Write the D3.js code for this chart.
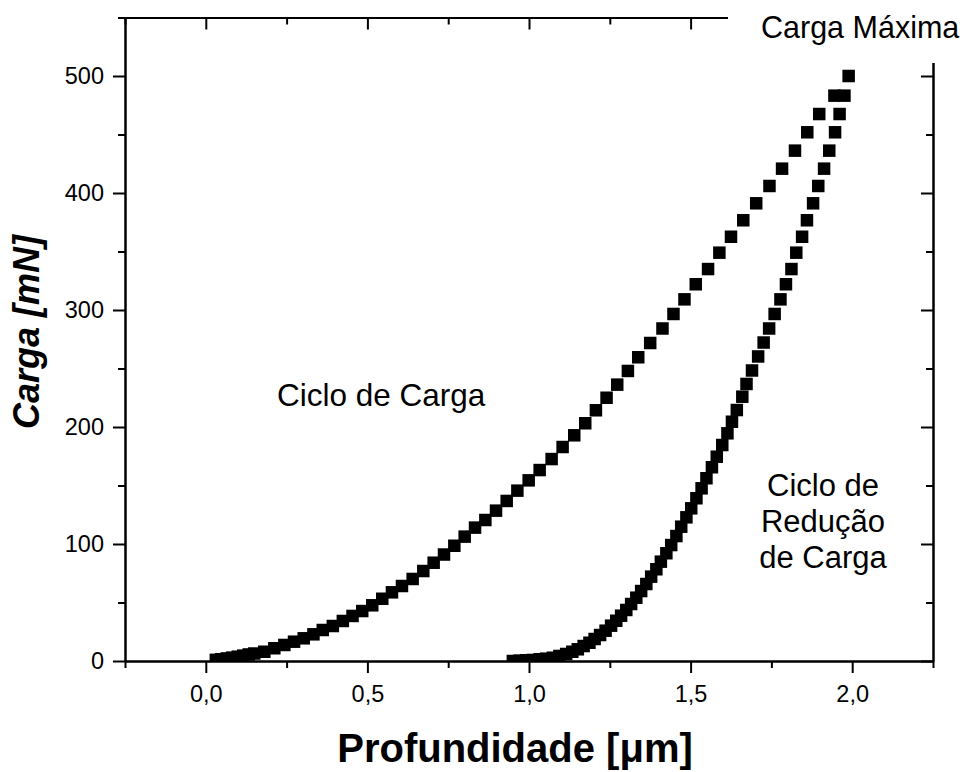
<!DOCTYPE html>
<html>
<head>
<meta charset="utf-8">
<script src="https://cdn.jsdelivr.net/npm/d3@7"></script>
<style>
	body { margin: 0; background: #fff; }
	svg { display: block; font-family: "Liberation Sans", Arial, sans-serif; }
	.axis path, .axis line { stroke: #000; stroke-width: 2; }
	.axis text { font-size: 23.5px; fill: #000; font-family: "Liberation Sans", Arial, sans-serif; }
</style>
</head>
<body>
<div id="chart"></div>
<script>
/**
 * Load / unload curve.
 */
var loadDepth = [0.031, 0.048, 0.065, 0.082, 0.099, 0.116, 0.133, 0.150, 0.181, 0.212,
	0.243, 0.273, 0.303, 0.333, 0.362, 0.393, 0.424, 0.454, 0.484, 0.515,
	0.546, 0.576, 0.607, 0.640, 0.673, 0.705, 0.737, 0.769, 0.801, 0.833,
	0.865, 0.898, 0.931, 0.964, 0.999, 1.033, 1.070, 1.104, 1.140, 1.174,
	1.207, 1.240, 1.273, 1.306, 1.338, 1.375, 1.413, 1.447, 1.481, 1.516,
	1.554, 1.589, 1.625, 1.663, 1.703, 1.744, 1.783, 1.823, 1.861, 1.898,
	1.945, 1.989];
var loadForce = [1.0, 1.5, 2.2, 2.9, 3.7, 4.6, 5.6, 6.4, 7.9, 10.9,
	13.7, 16.5, 19.4, 22.8, 26.5, 29.9, 34.2, 38.5, 42.7, 47.6,
	53.2, 58.7, 64.1, 70.1, 76.9, 84.0, 91.0, 98.5, 106.3, 114.0,
	120.5, 128.5, 136.8, 145.6, 154.4, 163.2, 172.6, 182.9, 192.9, 203.2,
	214.3, 225.0, 236.2, 247.9, 259.6, 271.8, 284.2, 296.6, 309.1, 322.0,
	335.0, 349.0, 362.6, 376.7, 391.2, 406.0, 420.8, 436.2, 451.9, 467.5,
	483.2, 500.0];

var unloadDepth = [1.976, 1.961, 1.947, 1.929, 1.913, 1.895, 1.879, 1.860, 1.845, 1.827,
	1.812, 1.795, 1.778, 1.760, 1.743, 1.726, 1.709, 1.690, 1.673, 1.660,
	1.643, 1.628, 1.614, 1.598, 1.581, 1.566, 1.549, 1.534, 1.518, 1.502,
	1.487, 1.471, 1.456, 1.440, 1.425, 1.408, 1.394, 1.378, 1.363, 1.347,
	1.332, 1.316, 1.301, 1.285, 1.270, 1.254, 1.237, 1.220, 1.203, 1.187,
	1.169, 1.151, 1.134, 1.115, 1.094, 1.074, 1.053, 1.033, 1.012, 0.991,
	0.971, 0.950];
var unloadForce = [483.2, 467.5, 451.9, 436.2, 420.8, 406.0, 391.2, 376.7, 362.6, 349.0,
	335.0, 322.0, 309.1, 296.6, 284.2, 272.2, 260.3, 248.3, 236.8, 225.9,
	214.5, 204.5, 194.6, 184.6, 174.6, 165.6, 156.2, 147.6, 139.1, 130.5,
	122.8, 114.8, 106.8, 99.1, 92.1, 84.9, 78.4, 72.1, 65.8, 59.8,
	54.1, 48.7, 43.6, 38.7, 34.4, 30.2, 25.9, 22.2, 18.8, 15.6,
	12.8, 10.0, 7.9, 6.0, 4.3, 2.8, 2.0, 1.5, 0.9, 0.6,
	0.3, 0.0];

var xMajor = [0, 0.5, 1, 1.5, 2];
var xMinor = [-0.25, 0.25, 0.75, 1.25, 1.75, 2.25];
var yMajor = [0, 100, 200, 300, 400, 500];
var yMinor = [50, 150, 250, 350, 450, 550];

var xDomain = [-0.25, 2.25];
var yDomain = [0, 550];

var reductionLines = ['Ciclo de', 'Redução', 'de Carga'];

/**
 * Build the chart
 */
function init() {
	var width = 970, height = 772,
		margin = {top: 17.5, right: 37, bottom: 111, left: 125},
		innerW = width - margin.left - margin.right,
		innerH = height - margin.top - margin.bottom,
		markerSize = 12.5;

	var svg = d3.select('#chart').append('svg')
		.attr('width', width)
		.attr('height', height);

	var x = d3.scaleLinear().domain(xDomain).range([0, innerW]);
	var y = d3.scaleLinear().domain(yDomain).range([innerH, 0]);

	var g = svg.append('g')
		.attr('transform', 'translate(' + margin.left + ',' + margin.top + ')');

	g.append('clipPath').attr('id', 'plot-clip')
		.append('rect')
		.attr('width', innerW)
		.attr('height', innerH);

	var points = loadDepth.map(function (d, i) { return {x: d, y: loadForce[i]}; })
		.concat(unloadDepth.map(function (d, i) { return {x: d, y: unloadForce[i]}; }));

	// square markers
	g.append('g').attr('clip-path', 'url(#plot-clip)')
		.selectAll('rect')
		.data(points).enter()
		.append('rect')
		.attr('x', function (d) { return x(d.x) - markerSize / 2; })
		.attr('y', function (d) { return y(d.y) - markerSize / 2; })
		.attr('width', markerSize)
		.attr('height', markerSize)
		.attr('fill', '#000');

	var comma = function (d) { return d3.format('.1f')(d).replace('.', ','); };

	// bottom axis
	g.append('g').attr('class', 'axis')
		.attr('transform', 'translate(0,' + innerH + ')')
		.call(d3.axisBottom(x).tickValues(xMajor).tickFormat(comma)
			.tickSize(12).tickSizeOuter(0).tickPadding(12));
	g.append('g').attr('class', 'axis')
		.attr('transform', 'translate(0,' + innerH + ')')
		.call(d3.axisBottom(x).tickValues(xMinor).tickFormat('')
			.tickSize(7).tickSizeOuter(0));

	// left axis
	g.append('g').attr('class', 'axis')
		.call(d3.axisLeft(y).tickValues(yMajor)
			.tickSize(12).tickSizeOuter(0).tickPadding(9));
	g.append('g').attr('class', 'axis')
		.call(d3.axisLeft(y).tickValues(yMinor).tickFormat('')
			.tickSize(7).tickSizeOuter(0));

	// mirrored top and right axes, ticks pointing inside
	g.append('g').attr('class', 'axis')
		.call(d3.axisTop(x).tickValues(xMajor).tickFormat('').tickSize(-12).tickSizeOuter(0));
	g.append('g').attr('class', 'axis')
		.call(d3.axisTop(x).tickValues(xMinor).tickFormat('').tickSize(-7).tickSizeOuter(0));
	g.append('g').attr('class', 'axis')
		.attr('transform', 'translate(' + innerW + ',0)')
		.call(d3.axisRight(y).tickValues(yMajor).tickFormat('').tickSize(-12).tickSizeOuter(0));
	g.append('g').attr('class', 'axis')
		.attr('transform', 'translate(' + innerW + ',0)')
		.call(d3.axisRight(y).tickValues(yMinor).tickFormat('').tickSize(-7).tickSizeOuter(0));

	// white box behind the top right label
	svg.append('rect')
		.attr('x', 728).attr('y', 0)
		.attr('width', width - 728).attr('height', 63)
		.attr('fill', '#fff');

	svg.append('text')
		.attr('x', 761).attr('y', 38)
		.attr('font-size', 30.5)
		.text('Carga Máxima');

	svg.append('text')
		.attr('x', 277).attr('y', 406)
		.attr('font-size', 31.5)
		.text('Ciclo de Carga');

	svg.append('text')
		.attr('text-anchor', 'middle')
		.attr('font-size', 31)
		.selectAll('tspan')
		.data(reductionLines).enter()
		.append('tspan')
		.attr('x', 823)
		.attr('y', function (d, i) { return 496 + i * 36; })
		.text(function (d) { return d; });

	// axis titles
	svg.append('text')
		.attr('x', 515).attr('y', 762)
		.attr('text-anchor', 'middle')
		.attr('font-size', 40)
		.attr('font-weight', 'bold')
		.text('Profundidade [μm]');

	svg.append('text')
		.attr('transform', 'translate(39,332) rotate(-90)')
		.attr('text-anchor', 'middle')
		.attr('font-size', 36)
		.attr('font-weight', 'bold')
		.attr('font-style', 'italic')
		.text('Carga [mN]');
}

init();
</script>
</body>
</html>
